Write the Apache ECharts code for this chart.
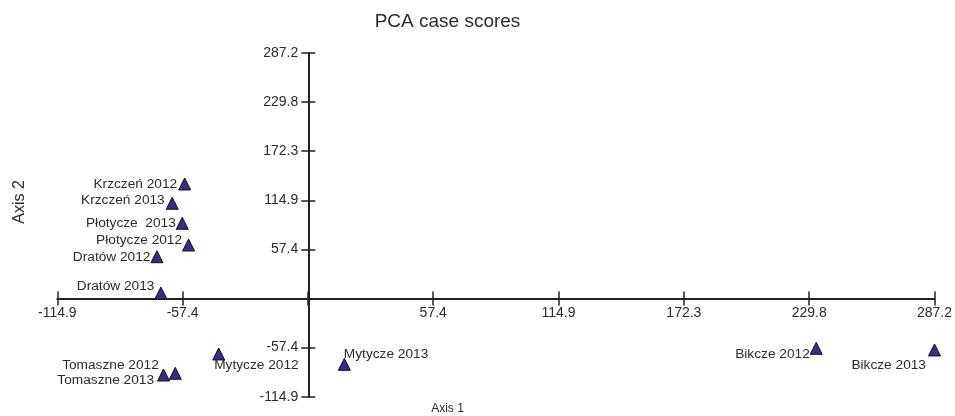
<!DOCTYPE html>
<html>
<head>
<meta charset="utf-8">
<script src="https://cdn.jsdelivr.net/npm/echarts@6/dist/echarts.min.js"></script>
<style>html,body{margin:0;padding:0;background:#fff}#c{width:955px;height:416px}</style>
</head>
<body>
<div id="c"></div>
<script>
// ---- data ----
var names = ['Krzczeń 2012','Krzczeń 2013','Płotycze  2013','Płotycze 2012','Dratów 2012','Dratów 2013',
             'Tomaszne 2012','Tomaszne 2013','Mytycze 2012','Mytycze 2013','Bikcze 2012','Bikcze 2013'];
var axis1 = [-56.5,-62.2,-57.6,-54.7,-69.2,-67.4,-60.8,-66.2,-40.9,16.7,233.0,287.2];
var axis2 = [134.0,111.4,88.0,62.6,48.9,6.4,-87.5,-89.5,-64.9,-77.0,-58.3,-60.2];
var tickInterval = 57.44;
var axisMin = -114.88;
var axisMax = 287.2;
var titleText = 'PCA case scores';
var xName = 'Axis 1';
var yName = 'Axis 2';

// ---- label placement (style) ----
var labelPlace = {
  'Krzczeń 2012':   {position:'left', distance:1, offset:[0,0]},
  'Krzczeń 2013':   {position:'left', distance:1, offset:[0,-3]},
  'Płotycze  2013': {position:'left', distance:0, offset:[0,0]},
  'Płotycze 2012':  {position:'left', distance:0, offset:[0,-5]},
  'Dratów 2012':    {position:'left', distance:0, offset:[0,1]},
  'Dratów 2013':    {position:'left', distance:0, offset:[0,-7]},
  'Tomaszne 2012':  {position:'left', distance:10, offset:[0,-8]},
  'Tomaszne 2013':  {position:'left', distance:3, offset:[0,5]},
  'Mytycze 2012':   {position:[2,18], align:'left', verticalAlign:'middle'},
  'Mytycze 2013':   {position:[6,-4], align:'left', verticalAlign:'middle'},
  'Bikcze 2012':    {position:'left', distance:0, offset:[0,6]},
  'Bikcze 2013':    {position:'left', distance:2, offset:[0,15]}
};

var FONT = "'Liberation Sans', Arial, sans-serif";
var TXT = '#2b2b2b';
var LINE = '#222222';
var W = 955, H = 416;
var G = {left:57.3, right:19.3, top:53, bottom:19.3};
var gw = W - G.left - G.right, gh = H - G.top - G.bottom;
var zeroFrac = (0 - axisMin) / (axisMax - axisMin);
var xOff = -zeroFrac * gh;   // move x axis up to value 0
var yOff = -zeroFrac * gw;   // move y axis right to value 0

var pts = names.map(function(n,i){
  var lp = labelPlace[n];
  var lab = {show:true, formatter:n};
  for (var k in lp) lab[k] = lp[k];
  return {name:n, value:[axis1[i], axis2[i]], label:lab};
});

function fmt(v){ return Math.abs(v) < 1e-6 ? '' : v.toFixed(1); }

var chart = echarts.init(document.getElementById('c'), null, {renderer:'canvas'});
var common = {type:'value', min:axisMin, max:axisMax, interval:tickInterval, splitLine:{show:false}};

chart.setOption({
  animation:false,
  backgroundColor:'#ffffff',
  grid:{left:G.left, right:G.right, top:G.top, bottom:G.bottom, containLabel:false},
  xAxis:[
    Object.assign({}, common, {
      position:'bottom', offset:xOff,
      axisLine:{show:true, onZero:false, lineStyle:{color:LINE, width:2}},
      axisTick:{show:true, inside:false, length:7, lineStyle:{color:LINE, width:1.5}},
      axisLabel:{show:true, margin:8, formatter:fmt, color:TXT, fontSize:14, fontFamily:FONT}
    }),
    Object.assign({}, common, {
      position:'bottom', offset:xOff,
      axisLine:{show:false, onZero:false},
      axisTick:{show:true, inside:true, length:7, lineStyle:{color:LINE, width:1.5}},
      axisLabel:{show:false}
    })
  ],
  yAxis:[
    Object.assign({}, common, {
      position:'left', offset:yOff,
      axisLine:{show:true, onZero:false, lineStyle:{color:LINE, width:2}},
      axisTick:{show:true, inside:false, length:7, lineStyle:{color:LINE, width:1.5}},
      axisLabel:{show:true, margin:10, formatter:fmt, color:TXT, fontSize:14, fontFamily:FONT}
    }),
    Object.assign({}, common, {
      position:'left', offset:yOff,
      axisLine:{show:false, onZero:false},
      axisTick:{show:true, inside:true, length:7, lineStyle:{color:LINE, width:1.5}},
      axisLabel:{show:false}
    })
  ],
  graphic:[
    {type:'text', x:447.5, y:22, style:{text:titleText, font:'19px '+FONT, fill:TXT, textAlign:'center', textVerticalAlign:'middle'}},
    {type:'text', x:447.5, y:409, style:{text:xName, font:'12px '+FONT, fill:TXT, textAlign:'center', textVerticalAlign:'middle'}},
    {type:'text', x:20, y:202, rotation:Math.PI/2, style:{text:yName, font:'16px '+FONT, fill:TXT, textAlign:'center', textVerticalAlign:'middle'}}
  ],
  series:[{
    type:'scatter',
    xAxisIndex:0, yAxisIndex:0,
    clip:false,
    symbol:'triangle',
    symbolSize:[12,12],
    itemStyle:{color:'#3a2a8c', borderColor:'#111111', borderWidth:1, opacity:1},
    label:{color:TXT, fontSize:13.7, fontFamily:FONT},
    emphasis:{disabled:true},
    data:pts
  }]
});
</script>
</body>
</html>
